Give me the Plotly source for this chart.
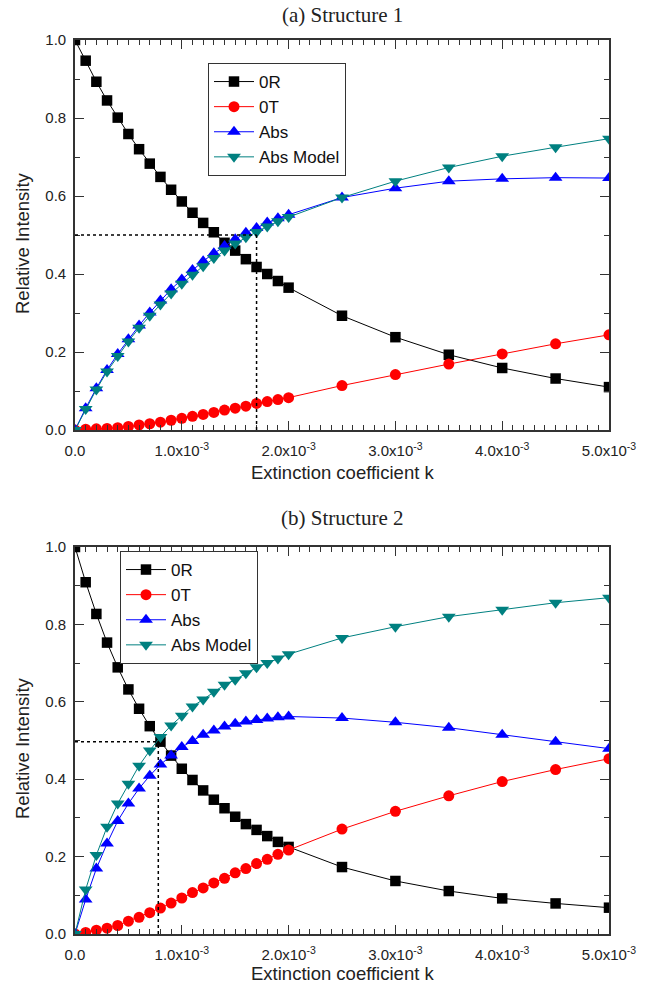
import plotly.graph_objects as go

k = [0, 0.1e-3, 0.2e-3, 0.3e-3, 0.4e-3, 0.5e-3, 0.6e-3, 0.7e-3, 0.8e-3, 0.9e-3, 1.0e-3,
     1.1e-3, 1.2e-3, 1.3e-3, 1.4e-3, 1.5e-3, 1.6e-3, 1.7e-3, 1.8e-3, 1.9e-3, 2.0e-3,
     2.5e-3, 3.0e-3, 3.5e-3, 4.0e-3, 4.5e-3, 5.0e-3]

# (a) Structure 1
r1 = [1.0, 0.947, 0.893, 0.845, 0.801, 0.759, 0.720, 0.683, 0.649, 0.616, 0.586,
      0.557, 0.531, 0.507, 0.480, 0.460, 0.438, 0.418, 0.400, 0.382, 0.365,
      0.293, 0.238, 0.193, 0.159, 0.132, 0.110]
t1 = [0.0, 0.002, 0.003, 0.004, 0.006, 0.009, 0.013, 0.016, 0.020, 0.025, 0.030,
      0.035, 0.040, 0.045, 0.051, 0.056, 0.061, 0.068, 0.073, 0.078, 0.083,
      0.114, 0.142, 0.169, 0.195, 0.221, 0.244]
a1 = [0.0, 0.056, 0.107, 0.154, 0.195, 0.233, 0.268, 0.301, 0.332, 0.361, 0.386,
      0.410, 0.433, 0.453, 0.472, 0.489, 0.506, 0.518, 0.532, 0.543, 0.552,
      0.596, 0.620, 0.638, 0.644, 0.647, 0.646]
m1 = [0.0, 0.054, 0.104, 0.150, 0.190, 0.227, 0.262, 0.293, 0.322, 0.350, 0.375,
      0.398, 0.420, 0.441, 0.460, 0.478, 0.494, 0.508, 0.522, 0.535, 0.546,
      0.596, 0.638, 0.673, 0.702, 0.725, 0.747]

# (b) Structure 2
r2 = [1.0, 0.909, 0.827, 0.753, 0.689, 0.632, 0.582, 0.537, 0.497, 0.461, 0.427,
      0.398, 0.371, 0.347, 0.325, 0.303, 0.284, 0.269, 0.253, 0.238, 0.225,
      0.173, 0.137, 0.111, 0.092, 0.079, 0.068]
t2 = [0.0, 0.004, 0.010, 0.015, 0.022, 0.033, 0.043, 0.055, 0.067, 0.080, 0.093,
      0.107, 0.119, 0.132, 0.144, 0.158, 0.169, 0.182, 0.193, 0.206, 0.217,
      0.271, 0.317, 0.357, 0.394, 0.425, 0.453]
a2 = [0.0, 0.089, 0.169, 0.234, 0.292, 0.337, 0.376, 0.409, 0.438, 0.461, 0.483,
      0.499, 0.515, 0.526, 0.536, 0.543, 0.549, 0.553, 0.557, 0.560, 0.562,
      0.558, 0.547, 0.533, 0.515, 0.497, 0.479]
m2 = [0.0, 0.115, 0.204, 0.277, 0.337, 0.388, 0.435, 0.474, 0.509, 0.539, 0.564,
      0.588, 0.606, 0.626, 0.644, 0.657, 0.674, 0.689, 0.700, 0.712, 0.723,
      0.765, 0.794, 0.820, 0.838, 0.856, 0.869]

# dotted guide lines (k, y)
guide1 = (1.7e-3, 0.5)
guide2 = (0.78e-3, 0.497)

xtickvals = [0, 1e-3, 2e-3, 3e-3, 4e-3, 5e-3]
xticktext = ["0.0", "1.0x10<sup>-3</sup>", "2.0x10<sup>-3</sup>", "3.0x10<sup>-3</sup>",
             "4.0x10<sup>-3</sup>", "5.0x10<sup>-3</sup>"]
ytickvals = [0, 0.2, 0.4, 0.6, 0.8, 1.0]
yticktext = ["0.0", "0.2", "0.4", "0.6", "0.8", "1.0"]

names = ["0R", "0T", "Abs", "Abs Model"]
colors = ["#000000", "#ff0000", "#0000ff", "#008080"]
symbols = ["square", "circle", "triangle-up", "triangle-down"]
sizes = [10.5, 11, 12, 12]

fig = go.Figure()

for series, xa, ya, leg in [([r1, t1, a1, m1], "x", "y", "legend"),
                            ([r2, t2, a2, m2], "x2", "y2", "legend2")]:
    for i, s in enumerate(series):
        fig.add_trace(go.Scatter(
            x=k, y=s, name=names[i], mode="lines+markers",
            line=dict(color=colors[i], width=1),
            marker=dict(symbol=symbols[i], size=sizes[i], color=colors[i],
                        line=dict(width=0)),
            xaxis=xa, yaxis=ya, legend=leg, cliponaxis=True))

FONT = "Arial, Liberation Sans, sans-serif"
SERIF = "Liberation Serif, Times New Roman, serif"
W, H = 651, 988
ML, MR, MT, MB = 75, 42, 40, 54
PW, PH = W - ML - MR, H - MT - MB


def py(pix):
    """page pixel row -> paper y fraction"""
    return 1 - (pix - MT) / PH


def px(pix):
    return (pix - ML) / PW


yd1 = [py(430), 1.0]
yd2 = [0.0, py(547)]


def xaxis(anchor):
    return dict(domain=[0, 1], anchor=anchor, range=[0, 5e-3], automargin=False,
                tickvals=xtickvals, ticktext=xticktext, ticks="inside", ticklen=9,
                tickwidth=1.3, tickcolor="#333", mirror="allticks", showline=True,
                linecolor="#333", linewidth=1.6, showgrid=False, zeroline=False,
                ticklabelstandoff=6,
                minor=dict(dtick=1e-4, tick0=0, ticks="inside", ticklen=5,
                           tickwidth=1, tickcolor="#333", showgrid=False),
                tickfont=dict(family=FONT, size=15, color="#222"))


def yaxis(domain, anchor):
    return dict(domain=domain, anchor=anchor, range=[0, 1.0], automargin=False,
                tickvals=ytickvals, ticktext=yticktext, ticks="inside", ticklen=9,
                tickwidth=1.3, tickcolor="#333", mirror="allticks", showline=True,
                linecolor="#333", linewidth=1.6, showgrid=False, zeroline=False,
                ticklabelstandoff=4,
                minor=dict(dtick=0.1, tick0=0, ticks="inside", ticklen=5,
                           tickwidth=1, tickcolor="#333", showgrid=False),
                tickfont=dict(family=FONT, size=15, color="#222"))


shapes = []
for (gx, gy), xr, yr in [(guide1, "x", "y"), (guide2, "x2", "y2")]:
    shapes.append(dict(type="line", xref=xr, yref=yr, x0=0, x1=gx, y0=gy, y1=gy,
                       line=dict(color="black", width=1.5, dash="dot")))
    shapes.append(dict(type="line", xref=xr, yref=yr, x0=gx, x1=gx, y0=0, y1=gy,
                       line=dict(color="black", width=1.5, dash="dot")))

legend_style = dict(bgcolor="white", bordercolor="#333", borderwidth=1,
                    font=dict(family=FONT, size=17, color="#111"),
                    xanchor="left", yanchor="top", itemwidth=40,
                    tracegroupgap=0)

tfont = dict(family=FONT, size=18.5, color="#222")
annotations = [
    dict(text="(a) Structure 1", x=0.5, y=py(15), font=dict(family=SERIF, size=21, color="#222")),
    dict(text="(b) Structure 2", x=0.5, y=py(518), font=dict(family=SERIF, size=21, color="#222")),
    dict(text="Extinction coefficient k", x=0.5, y=py(472), font=tfont),
    dict(text="Extinction coefficient k", x=0.5, y=py(973), font=tfont),
    dict(text="Relative Intensity", x=px(22), y=py(243), textangle=-90, font=tfont),
    dict(text="Relative Intensity", x=px(22), y=py(748), textangle=-90, font=tfont),
]
for a in annotations:
    a.update(xref="paper", yref="paper", showarrow=False, xanchor="center", yanchor="middle")

fig.update_layout(
    width=W, height=H,
    margin=dict(l=ML, r=MR, t=MT, b=MB, autoexpand=False),
    paper_bgcolor="white", plot_bgcolor="white",
    xaxis=xaxis("y"), yaxis=yaxis(yd1, "x"),
    xaxis2=xaxis("y2"), yaxis2=yaxis(yd2, "x2"),
    shapes=shapes,
    legend=dict(x=px(208), y=py(63), **legend_style),
    legend2=dict(x=px(120), y=py(551), **legend_style),
    annotations=annotations,
    showlegend=True,
)

fig.write_html("out.html")
